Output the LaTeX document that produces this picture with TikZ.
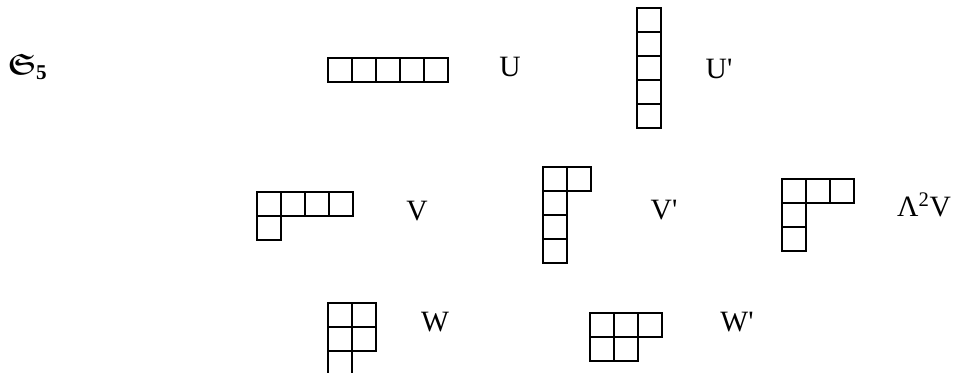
\documentclass[tikz,border=0pt]{standalone}
\usepackage{amssymb}
\usepackage{fontspec}
\setmainfont{Liberation Serif}[Ligatures=TeXOff]
\tikzset{
  cell/.style={draw, line width=1.1pt},
  rep/.style={font=\fontsize{21}{25}\selectfont, inner sep=0pt},
}
% young diagram: #1 = top left corner, #2 = row lengths
\newcommand{\youngdiag}[2]{%
  \begin{scope}[shift={#1}]
    \foreach \len [count=\ry] in {#2}
      \foreach \cx in {1,...,\len}
        \draw[cell] ({(\cx-1)*24},{(\ry-1)*24}) rectangle ++(24,24);
  \end{scope}}
\begin{document}
\begin{tikzpicture}[x=0.025cm,y=-0.025cm]
\useasboundingbox (0,0) rectangle (954,373);
\node[rep] (grp) at (27,67) {{\boldmath$\mathfrak{S}$}\raisebox{-4pt}{\fontsize{15}{17}\selectfont\bfseries 5}};
% first row
\youngdiag{(328,58)}{5}
\node[rep] (u) at (510,67) {U};
\youngdiag{(637,8)}{1,1,1,1,1}
\node[rep] (uprime) at (719,69) {U'};
% second row
\youngdiag{(257,192)}{4,1}
\node[rep] (v) at (417,211) {V};
\youngdiag{(543,167)}{2,1,1,1}
\node[rep] (vprime) at (664,210) {V'};
\youngdiag{(782,179)}{3,1,1}
\node[rep] (wedge) at (924,205) {Λ\textsuperscript{2}V};
% third row
\youngdiag{(328,303)}{2,2,1}
\node[rep] (w) at (435,322) {W};
\youngdiag{(590,313)}{3,2}
\node[rep] (wprime) at (737,322) {W'};
\end{tikzpicture}
\end{document}
